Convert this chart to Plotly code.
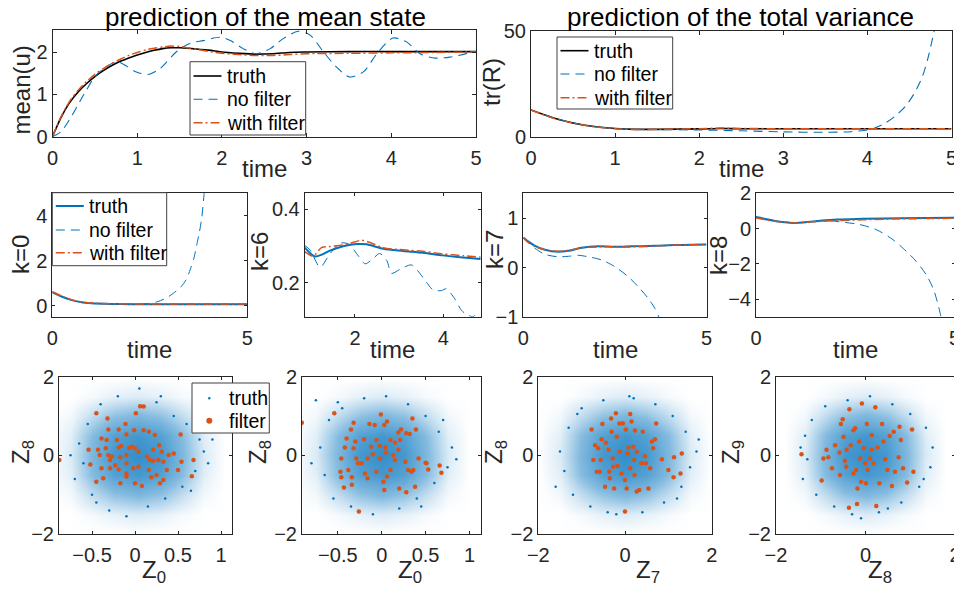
import plotly.graph_objects as go

W, H = 962, 589
OFF = 8  # the page body adds an 8px margin; positions below are page pixels
BLUE = "#0072BD"
ORANGE = "#D95319"
AX = "#262626"
FONT = "Liberation Sans, Arial, Helvetica, sans-serif"

# ---------------- data: mean state ----------------
tA = [0, 0.1, 0.2, 0.3, 0.4, 0.5, 0.6, 0.7, 0.8, 0.9, 1.0, 1.1, 1.2, 1.3, 1.4, 1.5, 1.6, 1.7, 1.8, 1.9,
      2.0, 2.2, 2.4, 2.6, 2.8, 3.0, 3.5, 4.0, 4.5, 5.0]
mean_truth = [0, 0.45, 0.8, 1.05, 1.25, 1.42, 1.56, 1.68, 1.78, 1.86, 1.93, 1.99, 2.04, 2.08, 2.1, 2.1,
              2.09, 2.07, 2.05, 2.03, 2.0, 1.97, 1.95, 1.96, 1.99, 2.0, 2.01, 2.01, 2.01, 2.01]
mean_filter = [0, 0.47, 0.83, 1.09, 1.3, 1.47, 1.61, 1.73, 1.83, 1.92, 1.99, 2.05, 2.09, 2.12, 2.14, 2.13,
               2.1, 2.07, 2.03, 2.0, 1.97, 1.94, 1.92, 1.92, 1.94, 1.96, 1.97, 1.98, 1.99, 2.0]
tA_nf = [0, 0.1, 0.2, 0.3, 0.4, 0.5, 0.6, 0.76, 0.99, 1.13, 1.27, 1.46, 1.62, 1.78, 1.98, 2.1, 2.25, 2.41,
         2.57, 2.72, 2.9, 3.04, 3.2, 3.35, 3.51, 3.67, 3.83, 4.02, 4.18, 4.34, 4.5, 4.69, 5.0]
mean_nofilter = [0, 0.12, 0.4, 0.75, 1.1, 1.42, 1.6, 1.77, 1.53, 1.47, 1.61, 2.0, 2.2, 2.27, 2.35, 2.27,
                 2.08, 1.96, 2.08, 2.31, 2.49, 2.4, 2.0, 1.65, 1.41, 1.53, 1.96, 2.33, 2.24, 1.96, 1.86, 1.88, 2.02]

# ---------------- data: total variance ----------------
tB = [0, 0.25, 0.5, 0.75, 1.0, 1.25, 1.5, 2.0, 2.25, 2.5, 3.0, 3.5, 4.0, 4.5, 5.0]
var_truth = [12.7, 9.2, 6.6, 4.9, 4.0, 3.6, 3.6, 3.8, 4.0, 3.9, 3.9, 3.9, 3.9, 3.9, 3.9]
var_filter = [12.7, 9.0, 6.5, 4.8, 3.9, 3.5, 3.6, 3.9, 4.2, 4.0, 3.9, 3.9, 3.9, 3.9, 3.9]
tB_nf = [0, 0.25, 0.5, 0.75, 1.0, 1.25, 1.5, 2.0, 2.5, 3.0, 3.5, 3.8, 4.0, 4.1, 4.21, 4.33, 4.45, 4.55,
         4.65, 4.72, 4.8]
var_nofilter = [12.7, 9.2, 6.6, 4.9, 4.0, 3.6, 3.5, 3.3, 2.9, 2.4, 2.2, 2.5, 3.3, 4.4, 6.5, 9.8, 14.3,
                20.0, 28.0, 37.0, 51.0]

# ---------------- data: k=0 ----------------
tC = [0, 0.25, 0.5, 0.75, 1.0, 1.5, 2.0, 2.5, 3.0, 3.5, 4.0, 4.5, 5.0]
k0_truth = [0.6, 0.4, 0.25, 0.15, 0.11, 0.08, 0.07, 0.07, 0.07, 0.07, 0.07, 0.07, 0.07]
k0_filter = [0.62, 0.42, 0.26, 0.16, 0.12, 0.09, 0.08, 0.08, 0.08, 0.08, 0.08, 0.08, 0.08]
tC_nf = [0, 0.25, 0.5, 0.75, 1.0, 1.5, 2.0, 2.4, 2.7, 2.93, 3.1, 3.28, 3.43, 3.54, 3.63, 3.7, 3.77,
         3.83, 3.89, 3.93]
k0_nofilter = [0.6, 0.4, 0.25, 0.15, 0.11, 0.08, 0.07, 0.09, 0.18, 0.35, 0.55, 0.8, 1.15, 1.62, 2.1,
               2.67, 3.25, 3.87, 4.92, 5.6]

# ---------------- data: k=6 ----------------
tD = [0.86, 0.95, 1.09, 1.25, 1.43, 1.73, 2.04, 2.26, 2.64, 3.09, 3.54, 3.99, 4.45, 4.85]
k6_truth = [0.296, 0.285, 0.272, 0.277, 0.288, 0.30, 0.306, 0.305, 0.293, 0.287, 0.282, 0.275, 0.269, 0.265]
tD_f = [0.86, 1.05, 1.24, 1.43, 1.81, 2.15, 2.34, 2.64, 3.09, 3.54, 3.99, 4.45, 4.85]
k6_filter = [0.285, 0.273, 0.296, 0.299, 0.305, 0.316, 0.31, 0.296, 0.29, 0.286, 0.279, 0.274, 0.27]
tD_nf = [0.86, 0.98, 1.21, 1.43, 1.66, 1.85, 2.08, 2.23, 2.38, 2.56, 2.72, 2.83, 3.02, 3.28, 3.43, 3.62,
         3.77, 3.96, 4.07, 4.26, 4.41, 4.53, 4.68, 4.72]
k6_nofilter = [0.302, 0.29, 0.243, 0.279, 0.308, 0.306, 0.273, 0.252, 0.263, 0.28, 0.261, 0.226, 0.237,
               0.249, 0.232, 0.202, 0.181, 0.179, 0.184, 0.157, 0.126, 0.114, 0.108, 0.112]

# ---------------- data: k=7 ----------------
tE = [0, 0.15, 0.32, 0.59, 0.95, 1.23, 1.59, 2.05, 2.5, 2.95, 3.41, 3.86, 4.32, 5.0]
k7_truth = [0.61, 0.52, 0.44, 0.36, 0.32, 0.34, 0.4, 0.43, 0.42, 0.43, 0.44, 0.45, 0.46, 0.47]
k7_filter = [0.6, 0.5, 0.43, 0.36, 0.33, 0.35, 0.4, 0.42, 0.42, 0.42, 0.43, 0.45, 0.46, 0.47]
tE_nf = [0, 0.15, 0.32, 0.59, 0.95, 1.23, 1.5, 1.77, 2.14, 2.5, 2.86, 3.14, 3.41, 3.59, 3.7, 3.76]
k7_nofilter = [0.6, 0.5, 0.39, 0.27, 0.22, 0.23, 0.25, 0.22, 0.155, 0.02, -0.18, -0.385, -0.62, -0.82,
               -0.99, -1.1]

# ---------------- data: k=8 ----------------
tF = [0, 0.52, 1.02, 1.52, 2.03, 2.7, 3.62, 5.0]
k8_truth = [0.65, 0.42, 0.32, 0.42, 0.51, 0.55, 0.59, 0.61]
k8_filter = [0.6, 0.4, 0.32, 0.4, 0.45, 0.5, 0.55, 0.58]
tF_nf = [0, 0.52, 1.02, 1.52, 1.8, 2.19, 2.61, 3.03, 3.45, 3.79, 4.04, 4.29, 4.46, 4.58, 4.66, 4.7]
k8_nofilter = [0.65, 0.42, 0.32, 0.42, 0.45, 0.36, 0.23, -0.06, -0.63, -1.3, -1.87, -2.63, -3.39, -4.25,
               -5.0, -5.3]

# ---------------- data: scatter panels ----------------
# estimated density of the truth cloud (rows bottom->top, cols left->right)
cloud_density = [
    [0, 0, 0, 0, 0, 0, 0, 0, 0],
    [0, 0, 0.04, 0.1, 0.14, 0.1, 0.04, 0, 0],
    [0, 0.05, 0.25, 0.45, 0.55, 0.45, 0.25, 0.05, 0],
    [0, 0.12, 0.5, 0.8, 0.9, 0.8, 0.5, 0.12, 0],
    [0, 0.15, 0.55, 0.9, 1.0, 0.9, 0.55, 0.15, 0],
    [0, 0.12, 0.5, 0.8, 0.9, 0.8, 0.5, 0.12, 0],
    [0, 0.05, 0.25, 0.45, 0.55, 0.45, 0.25, 0.05, 0],
    [0, 0, 0.04, 0.1, 0.14, 0.1, 0.04, 0, 0],
    [0, 0, 0, 0, 0, 0, 0, 0, 0],
]
cloud_y = [-2.0, -1.5, -1.0, -0.5, 0, 0.5, 1.0, 1.5, 2.0]
cloudG_x = [-1.0, -0.75, -0.5, -0.25, 0.03, 0.3, 0.55, 0.8, 1.05]
cloudH_x = [-1.0, -0.75, -0.5, -0.25, 0.0, 0.25, 0.5, 0.75, 1.0]
cloudI_x = [-2.0, -1.5, -1.0, -0.5, 0, 0.5, 1.0, 1.5, 2.0]
cloudJ_x = [-1.8, -1.35, -0.9, -0.45, 0, 0.45, 0.9, 1.35, 1.8]

truthG = [(-0.7, -0.6), (-0.65, 0.3), (-0.6, -0.2), (-0.55, 0.8), (-0.5, -1.0), (-0.4, 1.3), (-0.3, -1.4),
          (-0.2, 1.5), (-0.1, -1.55), (0.05, 1.7), (0.15, -1.3), (0.25, 1.35), (0.35, -1.1), (0.45, 1.0),
          (0.55, -0.8), (0.6, 0.8), (0.7, -0.4), (0.75, 0.4), (0.8, 0.1), (0.9, 0.4), (0.85, -0.2),
          (-0.75, 0.0), (0.65, -0.9), (-0.45, -1.2), (0.3, 1.5)]
truthH = [(-0.75, 1.4), (-0.7, 0.2), (-0.65, -0.5), (-0.6, 0.9), (-0.55, -1.1), (-0.45, 1.2), (-0.35, -1.3),
          (-0.2, 1.45), (-0.1, -1.5), (0.05, 1.5), (0.2, -1.35), (0.3, 1.3), (0.4, -1.1), (0.5, 1.0),
          (0.6, -0.7), (0.65, 0.6), (0.75, -0.3), (0.8, 0.2), (0.85, -0.1), (-0.8, -0.2), (0.7, 0.9),
          (-0.5, 1.35), (0.45, -1.3)]
truthI = [(-1.6, -0.8), (-1.5, 0.1), (-1.4, -0.4), (-1.3, 0.7), (-1.2, -1.0), (-1.0, 1.2), (-0.8, -1.3),
          (-0.5, 1.4), (-0.2, -1.5), (0.1, 1.5), (0.4, -1.45), (0.7, 1.3), (0.9, -1.2), (1.1, 1.0),
          (1.3, -0.8), (1.4, 0.6), (1.5, -0.3), (1.65, 0.1), (1.7, 0.4), (-1.1, 1.05), (1.2, -1.1),
          (0.2, 1.45), (-0.4, -1.45)]
truthJ = [(-1.4, -0.6), (-1.35, 0.5), (-1.3, -0.1), (-1.2, 0.9), (-1.1, -1.0), (-0.9, 1.25), (-0.7, -1.3),
          (-0.4, 1.4), (-0.1, -1.6), (0.1, 1.5), (0.3, -1.45), (0.6, 1.3), (0.8, -1.2), (1.0, 1.05),
          (1.2, -0.8), (1.35, 0.7), (1.45, -0.3), (1.5, 0.2), (1.3, -0.6), (-0.3, -1.5), (0.5, -1.35),
          (-1.45, 0.2)]

filterG = [(-0.88, -0.12), (-0.45, 1.07), (-0.32, 0.94), (0.01, 1.07), (0.06, 1.25), (0.1, 1.24),
           (-0.19, 0.66), (-0.11, 0.8), (-0.31, 0.66), (-0.33, 0.39), (-0.21, 0.39), (-0.1, 0.53),
           (-0.01, 0.64), (0.1, 0.64), (0.16, 0.6), (0.23, 0.52), (0.28, 0.26), (0.53, 0.53), (-0.43, 0.14),
           (-0.34, 0.18), (-0.31, 0.0), (-0.19, 0.2), (-0.16, 0.24), (-0.07, 0.19), (-0.04, 0.22), (0, 0.18),
           (0.04, 0.09), (-0.1, 0.01), (-0.17, -0.05), (-0.29, -0.12), (-0.39, -0.33), (-0.29, -0.33),
           (-0.23, -0.25), (-0.19, -0.36), (-0.1, -0.2), (-0.02, -0.33), (0.04, -0.29), (0.14, -0.03),
           (0.17, -0.12), (0.21, -0.14), (0.27, -0.12), (0.33, -0.16), (0.39, 0.01), (0.45, 0.05),
           (0.54, -0.16), (0.68, -0.12), (0.66, -0.53), (-0.52, -0.23), (-0.45, -0.67), (-0.37, -0.58),
           (-0.17, -0.71), (-0.1, -0.46), (-0.1, -0.54), (0, -0.71), (0.08, -0.78), (0.19, -0.56),
           (0.25, -0.5), (0.29, -0.71), (0.33, -0.63), (0.37, -0.37), (-0.54, 0.14), (-0.39, 0.43),
           (-0.27, -0.03), (-0.41, 0.01), (0.31, 0.09), (0.21, 0.14), (0.16, -0.37), (0.5, -0.37)]
filterH = [(-0.91, 0.83), (-0.54, 1.07), (-0.35, 0.66), (-0.32, 0.83), (-0.14, 0.8), (-0.08, 0.77),
           (-0.01, 1.04), (0.03, 0.77), (0.06, 0.86), (0.19, 0.58), (0.22, 0.66), (0.28, 0.56), (0.32, 0.54),
           (0.35, 0.94), (0.39, 0.66), (-0.4, 0.43), (-0.42, 0.2), (-0.32, 0.18), (-0.3, 0.35), (-0.2, 0.41),
           (-0.12, 0.22), (-0.06, 0.39), (-0.02, 0.24), (0.04, 0.2), (0.1, 0.39), (0.15, 0.32), (0.21, 0.39),
           (0.19, 0.14), (0.13, 0.01), (0.05, 0.07), (-0.02, -0.08), (-0.1, 0.03), (-0.16, -0.08),
           (-0.23, -0.2), (-0.27, -0.2), (-0.29, -0.08), (-0.46, -0.08), (-0.47, -0.42), (-0.38, -0.37),
           (-0.46, -0.56), (-0.34, -0.56), (-0.43, -0.82), (-0.34, -0.75), (-0.26, -1.43), (-0.19, -0.46),
           (-0.16, -0.58), (-0.06, -0.42), (0.02, -0.67), (0.03, -0.88), (0.06, -0.54), (0.1, -0.37),
           (0.15, -0.12), (0.2, -0.84), (0.27, -0.16), (0.28, -0.94), (0.3, -0.37), (0.34, -0.42),
           (0.36, -0.37), (0.38, -0.8), (0.42, -0.08), (0.51, -0.2), (0.53, -0.36), (0.66, -0.26),
           (0.68, -0.44), (0.5, -0.19)]
filterI = [(-0.77, 0.66), (-0.69, 0.26), (-0.65, -0.42), (-0.58, -0.42), (-0.73, -0.12), (-0.62, 0.18),
           (-0.56, -0.12), (-0.52, 0.8), (-0.54, 0.41), (-0.46, -0.8), (-0.44, 0.32), (-0.38, 0.14),
           (-0.36, -0.42), (-0.35, -0.58), (-0.32, 0.94), (-0.31, 0.6), (-0.28, -0.08), (-0.25, -0.84),
           (-0.21, 1.07), (-0.19, 0.47), (-0.17, -0.27), (-0.13, 0.81), (-0.12, 0.09), (-0.08, -0.46),
           (-0.05, 0.81), (0, -0.63), (0.02, 0.66), (0.04, -0.84), (0.06, 0.05), (0.08, 0.2), (0.12, 1.05),
           (0.15, 0.86), (0.19, 0.22), (0.21, -0.12), (0.22, -0.5), (0.23, 0.63), (0.27, -0.92),
           (0.33, -0.88), (0.38, -0.2), (0.41, 0.6), (0.46, -0.02), (0.48, -0.2), (0.54, -0.84),
           (0.58, -0.33), (0.62, 0.35), (0.65, 0.18), (0.69, 0.41), (0.72, 0.81), (0.85, -0.1),
           (1.0, -0.37), (1.13, -0.05), (1.12, -0.56), (1.31, 0.05), (1.28, -0.46), (0, -1.43),
           (0.27, 0.09), (0.12, -0.33), (-0.27, -0.29)]
filterJ = [(-1.43, 0.03), (-0.98, -0.64), (-0.94, -0.08), (-0.87, 0.14), (-0.83, -0.05), (-0.75, -0.33),
           (-0.68, 0.26), (-0.58, 0.07), (-0.57, -0.5), (-0.55, 0.8), (-0.51, 0.92), (-0.49, 0.47),
           (-0.46, -0.14), (-0.43, -0.29), (-0.42, 0.14), (-0.37, -1.33), (-0.36, 1.17), (-0.33, 0.26),
           (-0.27, 0.64), (-0.23, 0.69), (-0.21, -0.37), (-0.19, -1.24), (-0.18, -0.84), (-0.14, 0.35),
           (-0.12, -0.08), (-0.1, -0.67), (-0.08, 1.32), (-0.04, 0.18), (-0.01, -0.2), (0.01, -0.71),
           (0.03, 0.8), (0.05, -0.37), (0.1, -0.08), (0.14, 0.14), (0.18, -0.2), (0.22, 1.22), (0.24, -1.29),
           (0.27, 0.2), (0.31, -0.71), (0.37, 0.8), (0.4, 0.35), (0.44, -0.1), (0.49, -0.37), (0.54, 0.49),
           (0.59, -0.78), (0.63, 0.6), (0.66, -0.42), (0.74, -0.05), (0.76, 0.73), (0.79, 0.39),
           (0.84, -0.33), (0.93, -0.69), (1.04, 0.66), (1.07, -0.42), (0.14, 0.52), (-0.27, -0.46)]

# ---------------- layout helpers ----------------
def fx(px):
    return (px - OFF) / W

def fy(py):
    return 1 - (py - OFF) / H

panels = {
    1: (52.5, 476, 30, 136.7),
    2: (531, 951.5, 30.5, 137),
    3: (52.3, 247.3, 193, 317),
    4: (304.7, 480.7, 193.3, 316.7),
    5: (523.3, 706.5, 193.3, 317.3),
    6: (756, 954.5, 193.3, 316.7),
    7: (59, 231.7, 376.7, 534),
    8: (302, 480.7, 376.7, 534),
    9: (538.3, 711.7, 376.7, 534),
    10: (776, 955, 376.7, 534),
}
xranges = {1: [0, 5], 2: [0, 5], 3: [0, 5], 4: [0.86, 4.85], 5: [0, 5], 6: [0, 5],
           7: [-0.884, 1.124], 8: [-0.908, 1.128], 9: [-2, 2], 10: [-2, 2]}
yranges = {1: [0, 2.52], 2: [0, 50], 3: [-0.5, 5], 4: [0.108, 0.444], 5: [-1, 1.5], 6: [-5, 2],
           7: [-2, 2], 8: [-2, 2], 9: [-2, 2], 10: [-2, 2]}
xticks = {1: [0, 1, 2, 3, 4, 5], 2: [0, 1, 2, 3, 4, 5], 3: [0, 5], 4: [2, 4], 5: [0, 5], 6: [0, 5],
          7: [-0.5, 0, 0.5, 1], 8: [-0.5, 0, 0.5, 1], 9: [-2, 0, 2], 10: [-2, 0, 2]}
yticks = {1: [0, 1, 2], 2: [0, 50], 3: [0, 2, 4], 4: [0.2, 0.4], 5: [-1, 0, 1], 6: [-4, -2, 0, 2],
          7: [-2, 0, 2], 8: [-2, 0, 2], 9: [-2, 0, 2], 10: [-2, 0, 2]}

fig = go.Figure()

def ax(i):
    return ("x" if i == 1 else f"x{i}"), ("y" if i == 1 else f"y{i}")

def line(i, x, y, name, color, width, dash):
    xa, ya = ax(i)
    fig.add_trace(go.Scatter(
        x=x, y=y, mode="lines", name=name, xaxis=xa, yaxis=ya,
        line=dict(color=color, width=width, dash=dash, shape="spline", smoothing=0.8),
        showlegend=False, hoverinfo="skip"))

DASH = "9px,6px"
DASHDOT = "9px,3px,2px,3px"

# Row 1
line(1, tA, mean_truth, "truth", "black", 1.6, "solid")
line(1, tA_nf, mean_nofilter, "no filter", BLUE, 1.1, DASH)
line(1, tA, mean_filter, "with filter", ORANGE, 1.5, DASHDOT)
line(2, tB, var_truth, "truth", "black", 1.6, "solid")
line(2, tB_nf, var_nofilter, "no filter", BLUE, 1.1, DASH)
line(2, tB, var_filter, "with filter", ORANGE, 1.5, DASHDOT)
# Row 2
line(3, tC, k0_truth, "truth", BLUE, 2.0, "solid")
line(3, tC_nf, k0_nofilter, "no filter", BLUE, 1.0, DASH)
line(3, tC, k0_filter, "with filter", ORANGE, 1.5, DASHDOT)
line(4, tD, k6_truth, "truth", BLUE, 2.0, "solid")
line(4, tD_nf, k6_nofilter, "no filter", BLUE, 1.0, DASH)
line(4, tD_f, k6_filter, "with filter", ORANGE, 1.5, DASHDOT)
line(5, tE, k7_truth, "truth", BLUE, 2.0, "solid")
line(5, tE_nf, k7_nofilter, "no filter", BLUE, 1.0, DASH)
line(5, tE, k7_filter, "with filter", ORANGE, 1.5, DASHDOT)
line(6, tF, k8_truth, "truth", BLUE, 2.0, "solid")
line(6, tF_nf, k8_nofilter, "no filter", BLUE, 1.0, DASH)
line(6, tF, k8_filter, "with filter", ORANGE, 1.5, DASHDOT)

# Row 3
cscale = [[0, "rgba(0,114,189,0)"], [0.1, "rgba(0,114,189,0.1)"], [0.5, "rgba(0,114,189,0.48)"],
          [1, "rgba(0,114,189,0.8)"]]
for i, cx, tpts, fpts in [(7, cloudG_x, truthG, filterG), (8, cloudH_x, truthH, filterH),
                          (9, cloudI_x, truthI, filterI), (10, cloudJ_x, truthJ, filterJ)]:
    xa, ya = ax(i)
    fig.add_trace(go.Heatmap(x=cx, y=cloud_y, z=cloud_density, xaxis=xa, yaxis=ya, zmin=0, zmax=1,
                             colorscale=cscale, showscale=False, zsmooth="best", hoverinfo="skip"))
    fig.add_trace(go.Scatter(x=[p[0] for p in tpts], y=[p[1] for p in tpts], mode="markers",
                             name="truth", xaxis=xa, yaxis=ya, marker=dict(color=BLUE, size=2.5),
                             showlegend=False, hoverinfo="skip"))
    fig.add_trace(go.Scatter(x=[p[0] for p in fpts], y=[p[1] for p in fpts], mode="markers",
                             name="filter", xaxis=xa, yaxis=ya, marker=dict(color=ORANGE, size=4.5),
                             showlegend=False, hoverinfo="skip"))

layout = dict(
    width=W, height=H, margin=dict(l=0, r=0, t=0, b=0, autoexpand=False),
    paper_bgcolor="white", plot_bgcolor="white", showlegend=False,
    font=dict(family=FONT, color=AX, size=20),
)
for i, (x0, x1, y0, y1) in panels.items():
    xa = "xaxis" if i == 1 else f"xaxis{i}"
    ya = "yaxis" if i == 1 else f"yaxis{i}"
    tl = 4 if i <= 2 else 3
    common = dict(showline=True, mirror="ticks", linecolor=AX, linewidth=1, ticks="inside",
                  ticklen=tl, tickcolor=AX, tickwidth=1, showgrid=False, zeroline=False,
                  automargin=False, tickfont=dict(size=20, color=AX, family=FONT), fixedrange=True)
    layout[xa] = dict(domain=[fx(x0), fx(x1)], range=xranges[i], tickvals=xticks[i],
                      anchor=("y" if i == 1 else f"y{i}"), ticklabelstandoff=3, **common)
    layout[ya] = dict(domain=[fy(y1), fy(y0)], range=yranges[i], tickvals=yticks[i],
                      anchor=("x" if i == 1 else f"x{i}"), **common)

ann = []
shapes = []

def text(x, y, s, size=24, angle=0, color=AX, xanchor="center"):
    ann.append(dict(x=fx(x), y=fy(y), xref="paper", yref="paper", text=s, showarrow=False,
                    textangle=angle, xanchor=xanchor, yanchor="middle",
                    font=dict(size=size, color=color, family=FONT)))

def box(x0, y0, x1, y1):
    shapes.append(dict(type="rect", xref="paper", yref="paper", x0=fx(x0), x1=fx(x1), y0=fy(y1),
                       y1=fy(y0), fillcolor="white", line=dict(color="#404040", width=1), layer="above"))

def sample(x0, x1, y, color, width, dash):
    shapes.append(dict(type="line", xref="paper", yref="paper", x0=fx(x0), x1=fx(x1), y0=fy(y), y1=fy(y),
                       line=dict(color=color, width=width, dash=dash), layer="above"))

def dot(x, y, d, color):
    shapes.append(dict(type="circle", xref="paper", yref="paper", x0=fx(x - d / 2), x1=fx(x + d / 2),
                       y0=fy(y + d / 2), y1=fy(y - d / 2), fillcolor=color, line=dict(width=0),
                       layer="above"))

def legend3(x0, y0, x1, y1, rows, truth_color, truth_w):
    box(x0, y0, x1, y1)
    lx0, lx1, tx = x0 + 3.5, x0 + 31.5, x0 + 35
    specs = [("truth", truth_color, truth_w, "solid"), ("no filter", BLUE, 1.1, DASH),
             ("with filter", ORANGE, 1.5, DASHDOT)]
    for (name, c, w, d), yy in zip(specs, rows):
        sample(lx0, lx1, yy, c, w, d)
        text(tx, yy, name, 19.5, 0, "black", "left")

legend3(190, 61.7, 305.7, 135, [76, 99.3, 122.7], "black", 1.6)
legend3(557, 37, 672.7, 109, [50.7, 74, 97.7], "black", 1.6)
legend3(52.3, 192.7, 166.7, 265.7, [206, 230, 252.7], BLUE, 2.0)
# scatter legend
box(192, 383, 269.3, 433)
dot(209.3, 398.3, 2.5, BLUE)
text(226.7, 398.3, "truth", 19.5, 0, "black", "left")
dot(209.3, 420.7, 6, ORANGE)
text(226.7, 420.7, "filter", 19.5, 0, "black", "left")

text(265, 17.5, "prediction of the mean state", 26, color="black")
text(740.5, 17.5, "prediction of the total variance", 26, color="black")
for xc in [264, 741]:
    text(xc, 168, "time")
text(21.5, 90, "mean(u)", 24, -90)
text(492, 82, "tr(R)", 24, -90)
for xc in [149.5, 392, 615, 855.5]:
    text(xc, 349, "time")
text(20, 255, "k=0", 24, -90)
text(259, 252, "k=6", 24, -90)
text(494, 250, "k=7", 24, -90)
text(718, 256, "k=8", 24, -90)
text(22, 452, "Z<sub>8</sub>", 24, -90)
text(259, 452, "Z<sub>8</sub>", 24, -90)
text(495, 452, "Z<sub>8</sub>", 24, -90)
text(732, 452, "Z<sub>9</sub>", 24, -90)
text(154, 571, "Z<sub>0</sub>")
text(410, 571, "Z<sub>0</sub>")
text(648, 571, "Z<sub>7</sub>")
text(880, 571, "Z<sub>8</sub>")
layout["annotations"] = ann
layout["shapes"] = shapes

fig.update_layout(**layout)
fig.write_html("out.html")
